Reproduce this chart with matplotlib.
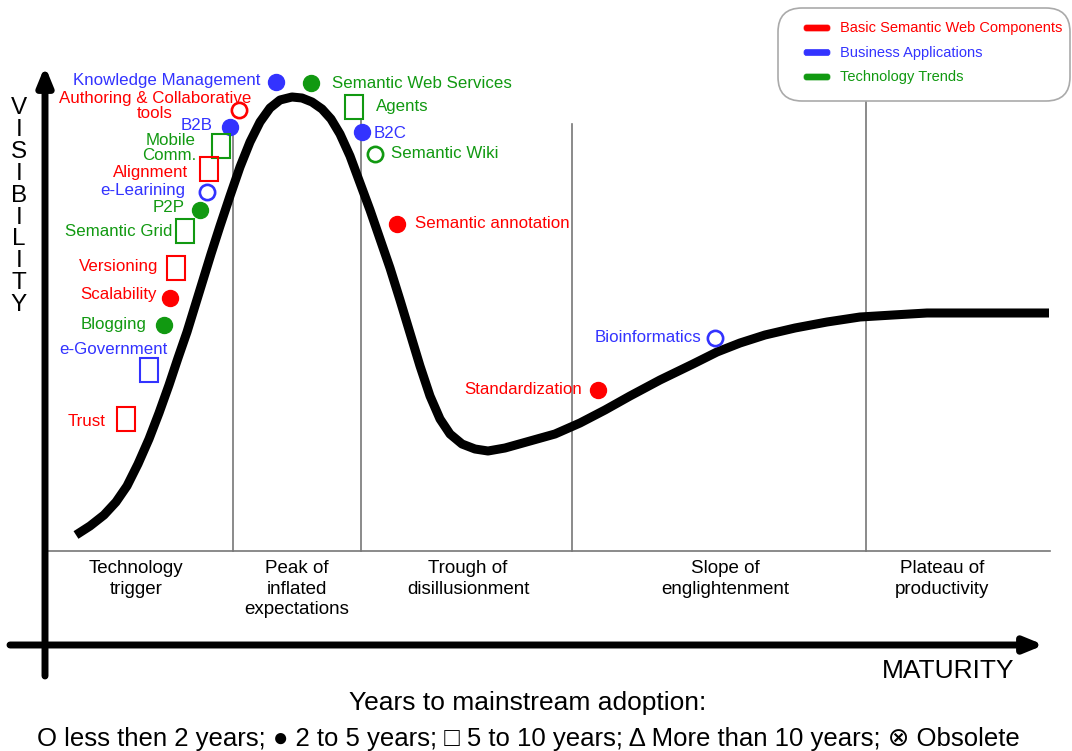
import matplotlib.pyplot as plt
from matplotlib.patches import Rectangle, FancyBboxPatch

# hype curve (pixel space, y grows downwards)
curve_x = [76, 90, 104, 116, 127, 138, 149, 159, 169, 178, 187, 195, 203, 211,
           220, 230, 240, 250, 260, 270, 280, 292, 302, 312, 322, 331, 340, 350,
           360, 370, 380, 390, 400, 410, 420, 430, 440, 450, 462, 475, 488, 505,
           530, 555, 580, 605, 630, 660, 693, 717, 740, 765, 795, 827, 860, 893,
           927, 1049]
curve_y = [535, 526, 515, 502, 486, 464, 439, 413, 385, 358, 332, 306, 280, 254,
           226, 196, 167, 142, 122, 108, 100, 97, 98, 102, 109, 119, 134, 156,
           183, 210, 239, 268, 300, 333, 366, 396, 419, 434, 444, 449, 451, 448,
           441, 434, 423, 410, 396, 380, 364, 352, 343, 335, 328, 322, 317, 315,
           313, 313]

categories = ['Basic Semantic Web Components', 'Business Applications', 'Technology Trends']
cat_colors = ['#ff0000', '#3333ff', '#119911']

items = ['Knowledge Management', 'Semantic Web Services', 'Authoring & Collaborative\ntools',
         'Agents', 'B2B', 'B2C', 'Mobile\nComm.', 'Semantic Wiki', 'Alignment',
         'e-Learining', 'P2P', 'Semantic annotation', 'Semantic Grid', 'Versioning',
         'Scalability', 'Blogging', 'e-Government', 'Trust', 'Standardization',
         'Bioinformatics']
item_cat = [1, 2, 0, 2, 1, 1, 2, 2, 0, 1, 2, 0, 2, 0, 0, 2, 1, 0, 0, 1]
# 'o' < 2 years, 'f' 2-5 years, 's' 5-10 years
item_kind = ['f', 'f', 'o', 's', 'f', 'f', 's', 'o', 's', 'o', 'f', 'f', 's', 's',
             'f', 'f', 's', 's', 'f', 'o']
item_x = [276, 311, 239, 354, 230, 362, 221, 375, 209, 207, 200, 397, 185, 176,
          170, 164, 149, 126, 598, 715]
item_y = [82, 83, 110, 107, 127, 132, 146, 154, 169, 192, 210, 224, 231, 268,
          298, 325, 370, 419, 390, 338]

label_x = [260, 332, 155, 376, 213, 374, 196, 391, 188, 185, 185, 415, 172, 158,
           157, 146, 168, 105, 582, 701]
label_y = [81, 83, 106, 107, 125, 133, 148, 154, 172, 191, 208, 223, 231, 266,
           295, 324, 349, 421, 390, 337]
label_ha = ['right', 'left', 'center', 'left', 'right', 'left', 'right', 'left',
            'right', 'right', 'right', 'left', 'right', 'right', 'right', 'right',
            'right', 'right', 'right', 'right']

phases = ['Technology\ntrigger', 'Peak of\ninflated\nexpectations', 'Trough of\ndisillusionment',
          'Slope of\nenglightenment', 'Plateau of\nproductivity']
phase_cx = [136, 297, 468, 725, 942]
phase_bounds = [233, 361, 572, 866]
phase_tops = [130, 120, 124, 100]

fig = plt.figure(figsize=(10.72, 7.51), dpi=100)
ax = fig.add_axes([0, 0, 1, 1])
ax.set_xlim(0, 1072)
ax.set_ylim(751, 0)
ax.axis('off')

FONT = ['Liberation Sans', 'DejaVu Sans']

# phase separators
for bx, top in zip(phase_bounds, phase_tops):
    ax.plot([bx, bx], [top, 551], color='#777777', lw=1.2, zorder=1)
ax.plot([47, 1050], [551, 551], color='#777777', lw=1.2, zorder=1)
for name, cx in zip(phases, phase_cx):
    ax.text(cx, 560, name, ha='center', va='top', fontsize=13.5, family=FONT,
            linespacing=1.28)

# axes arrows
ax.annotate('', xy=(45, 66), xytext=(45, 676),
            arrowprops=dict(arrowstyle='-|>,head_length=1.1,head_width=0.45',
                            lw=5, color='black', shrinkA=0, shrinkB=0))
ax.annotate('', xy=(1044, 645), xytext=(10, 645),
            arrowprops=dict(arrowstyle='-|>,head_length=1.1,head_width=0.45',
                            lw=5, color='black', shrinkA=0, shrinkB=0))
for i, ch in enumerate('VISIBILITY'):
    ax.text(19, 108 + i * 21.9, ch, ha='center', va='center', fontsize=17.5, family=FONT)
ax.text(1014, 671, 'MATURITY', ha='right', va='center', fontsize=19, family=FONT)

# the curve
ax.plot(curve_x, curve_y, color='black', lw=6.5, solid_capstyle='butt',
        solid_joinstyle='round', zorder=2)

# technologies
for name, c, k, x, y, lx, ly, ha in zip(items, item_cat, item_kind, item_x, item_y,
                                        label_x, label_y, label_ha):
    col = cat_colors[c]
    if k == 'f':
        ax.plot(x, y, 'o', ms=11.5, color=col, mec=col, zorder=3)
    elif k == 'o':
        ax.plot(x, y, 'o', ms=11, mfc='white', mec=col, mew=1.9, zorder=3)
    else:
        ax.add_patch(Rectangle((x - 9, y - 12), 18, 24, fill=False, ec=col,
                               lw=1.5, zorder=3))
    # one text per line so the short lines keep tight boxes
    lines = name.split('\n')
    for j, line in enumerate(lines):
        yy = ly + (j - (len(lines) - 1) / 2) * 15
        ax.text(lx, yy, line, ha=ha, va='center', color=col, fontsize=12.2,
                family=FONT)

# legend box
ax.add_patch(FancyBboxPatch((778, 8), 292, 93, boxstyle='round,pad=0,rounding_size=24',
                            fc='white', ec='#aaaaaa', lw=1.2, zorder=4))
for i, (cat, col) in enumerate(zip(categories, cat_colors)):
    yy = 28 + i * 24.5
    ax.add_patch(FancyBboxPatch((804, yy - 3), 26, 6, boxstyle='round,pad=0,rounding_size=2.5',
                                fc=col, ec=col, lw=0.5, zorder=5))
    ax.text(840, yy, cat, ha='left', va='center', color=col, fontsize=10.5,
            family=FONT, zorder=5)

ax.text(528, 703, 'Years to mainstream adoption:', ha='center', va='center',
        fontsize=19, family=FONT)
ax.text(528, 739, 'O less then 2 years; \u25cf 2 to 5 years; \u25a1 5 to 10 years; '
        '\u0394 More than 10 years; \u2297 Obsolete', ha='center', va='center',
        fontsize=18.5, family=FONT)

fig.savefig('out.png', dpi=100, facecolor='white')
